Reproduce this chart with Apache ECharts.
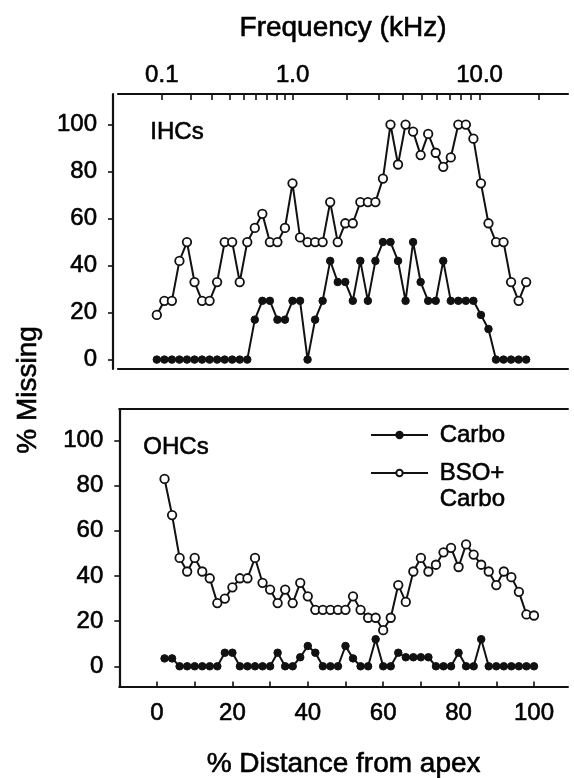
<!DOCTYPE html>
<html>
<head>
<meta charset="utf-8">
<script src="https://cdn.jsdelivr.net/npm/echarts@6/dist/echarts.min.js"></script>
<style>
  html, body { margin: 0; padding: 0; background: #fff; }
  #chart { width: 574px; height: 778px; }
</style>
</head>
<body>
<div id="chart"></div>
<script>
// Position along the cochlea (% distance from apex) of each sampled segment
const distance = [2, 4, 6, 8, 10, 12, 14, 16, 18, 20,
                  22, 24, 26, 28, 30, 32, 34, 36, 38, 40,
                  42, 44, 46, 48, 50, 52, 54, 56, 58, 60,
                  62, 64, 66, 68, 70, 72, 74, 76, 78, 80,
                  82, 84, 86, 88, 90, 92, 94, 96, 98, 100];

// Inner hair cells, % missing
const ihcCarbo = [0, 0, 0, 0, 0, 0, 0, 0, 0, 0,
                  0, 0, 0, 17, 25, 25, 17, 17, 25, 25,
                  0, 17, 25, 42, 33, 33, 25, 42, 25, 42,
                  50, 50, 42, 25, 50, 33, 25, 25, 42, 25,
                  25, 25, 25, 19, 13, 0, 0, 0, 0, 0];
const ihcBsoCarbo = [19, 25, 25, 42, 50, 33, 25, 25, 33, 50,
                     50, 33, 50, 56, 62, 50, 50, 56, 75, 52,
                     50, 50, 50, 67, 50, 58, 58, 67, 67, 67,
                     77, 100, 83, 100, 97, 87, 96, 88, 82, 86,
                     100, 100, 94, 75, 58, 50, 50, 33, 25, 33];

// Outer hair cells, % missing
const ohcCarbo = [3.5, 3.5, 0, 0, 0, 0, 0, 0, 6, 6,
                  0, 0, 0, 0, 0, 6, 0, 0, 4, 9,
                  6, 0, 0, 0, 9, 3.5, 0, 0, 12, 0,
                  0, 6, 4, 4, 4, 4, 0, 0, 0, 6,
                  0, 0, 12, 0, 0, 0, 0, 0, 0, 0];
const ohcBsoCarbo = [83, 67, 48, 42, 48, 42, 39, 28, 30, 35,
                     39, 39, 48, 37, 34, 28, 34, 28, 37, 31,
                     25, 25, 25, 25, 25, 31, 25, 21.5, 21.5, 16,
                     21.5, 36, 28.5, 42, 48, 42, 45, 50.5, 52.5, 44,
                     54, 49.5, 45, 42, 36, 42, 39.5, 33, 23, 22.5];

// Axis ticks
const missingTicks = [0, 20, 40, 60, 80, 100];
const distanceTicks = [0, 10, 20, 30, 40, 50, 60, 70, 80, 90, 100];
const distanceLabels = [0, 20, 40, 60, 80, 100];
const freqTicks = [0.1, 0.2, 0.3, 0.4, 0.5, 0.6, 0.7, 0.8, 0.9,
                   1, 2, 3, 4, 5, 6, 7, 8, 9, 10, 20];
const freqLabels = [0.1, 1, 10];

// Greenwood-type frequency-place map (kHz -> % distance from apex)
const GW = { L: 52.45, A: 0.2165, k: 0.695 };
function freqToDist(f) { return GW.L * Math.log10(f / GW.A + GW.k); }

const FONT = '"Liberation Sans", Arial, Helvetica, sans-serif';
const INK = '#111';
// slightly heavier glyphs: a thin outline in the text colour
const heavy = { textBorderColor: '#000', textBorderWidth: 0.6 };

const pairs = (ys) => distance.map((d, i) => [d, ys[i]]);

const closedSeries = (name, ys, xi, yi) => ({
  name, type: 'line', xAxisIndex: xi, yAxisIndex: yi,
  data: pairs(ys),
  symbol: 'circle', symbolSize: 7.5, showSymbol: true,
  lineStyle: { color: INK, width: 2 },
  itemStyle: { color: INK, borderColor: INK, borderWidth: 1 },
  emphasis: { disabled: true }, animation: false, z: 3
});
const openSeries = (name, ys, xi, yi) => ({
  name, type: 'line', xAxisIndex: xi, yAxisIndex: yi,
  data: pairs(ys),
  symbol: 'circle', symbolSize: 8.5, showSymbol: true,
  lineStyle: { color: INK, width: 2 },
  itemStyle: { color: '#fff', borderColor: INK, borderWidth: 1.8 },
  emphasis: { disabled: true }, animation: false, z: 4
});

const lineOnly = { show: true, onZero: false, lineStyle: { color: INK, width: 2.2 } };
const tickFont = { fontFamily: FONT, fontSize: 24, color: '#000', ...heavy };
const nameFont = { fontFamily: FONT, fontSize: 28, color: '#000', ...heavy };

const topX = { min: -8.3, max: 111.1 };
const botX = { min: -10, max: 109 };

const chart = echarts.init(document.getElementById('chart'), null, { renderer: 'canvas' });

chart.setOption({
  backgroundColor: '#fff',
  animation: false,
  grid: [
    { left: 118, top: 94, width: 450, height: 275, containLabel: false, outerBoundsMode: 'none' },
    { left: 119.3, top: 409, width: 448.6, height: 277.6, containLabel: false, outerBoundsMode: 'none' }
  ],
  xAxis: [
    { // lower edge of the IHC panel
      gridIndex: 0, type: 'value', position: 'bottom', ...topX,
      axisLine: lineOnly, axisTick: { show: false }, axisLabel: { show: false },
      splitLine: { show: false }
    },
    { // frequency scale along the top
      gridIndex: 0, type: 'value', position: 'top', ...topX,
      name: 'Frequency (kHz)', nameLocation: 'middle', nameGap: 52,
      nameTextStyle: nameFont,
      axisLine: lineOnly,
      axisTick: { show: true, inside: true, length: 6, lineStyle: { color: INK, width: 1.6 },
                  customValues: freqTicks.map(freqToDist) },
      axisLabel: { ...tickFont, margin: 7, customValues: freqLabels.map(freqToDist),
                   formatter: (v) => {
                     let best = freqLabels[0];
                     freqLabels.forEach(f => { if (Math.abs(freqToDist(f) - v) < Math.abs(freqToDist(best) - v)) best = f; });
                     return best.toFixed(1);
                   } },
      splitLine: { show: false }
    },
    { // distance from apex
      gridIndex: 1, type: 'value', position: 'bottom', ...botX,
      name: '% Distance from apex', nameLocation: 'middle', nameGap: 64,
      nameTextStyle: nameFont,
      axisLine: lineOnly,
      axisTick: { show: true, inside: true, length: 5, lineStyle: { color: INK, width: 1.6 },
                  customValues: distanceTicks },
      axisLabel: { ...tickFont, margin: 15, customValues: distanceLabels },
      splitLine: { show: false }
    },
    { // upper edge of the OHC panel
      gridIndex: 1, type: 'value', position: 'top', ...botX,
      axisLine: lineOnly, axisTick: { show: false }, axisLabel: { show: false },
      splitLine: { show: false }
    }
  ],
  yAxis: [
    {
      gridIndex: 0, type: 'value', min: -4, max: 113, offset: 5,
      axisLine: lineOnly,
      axisTick: { show: true, length: 5, lineStyle: { color: INK, width: 1.6 }, customValues: missingTicks },
      axisLabel: { ...tickFont, margin: 16, customValues: missingTicks },
      splitLine: { show: false }
    },
    {
      gridIndex: 1, type: 'value', min: -9, max: 114,
      axisLine: lineOnly,
      axisTick: { show: true, length: 5, lineStyle: { color: INK, width: 1.6 }, customValues: missingTicks },
      axisLabel: { ...tickFont, margin: 16, customValues: missingTicks },
      splitLine: { show: false }
    }
  ],
  legend: [
    {
      data: ['Carbo'], left: 370, top: 422, padding: 0, orient: 'vertical',
      itemWidth: 57, itemHeight: 8, selectedMode: false,
      formatter: (n) => ' ' + n,
      textStyle: { fontFamily: FONT, fontSize: 24, color: '#000', lineHeight: 26, ...heavy }
    },
    {
      data: ['BSO+ Carbo'], left: 370, top: 434, padding: 0, orient: 'vertical',
      itemWidth: 57, itemHeight: 8, selectedMode: false,
      formatter: () => ' \n BSO+\n Carbo',
      textStyle: { fontFamily: FONT, fontSize: 24, color: '#000', lineHeight: 26, ...heavy }
    }
  ],
  graphic: [
    { type: 'text', left: 150, top: 120,
      style: { text: 'IHCs', font: '24px ' + FONT, fill: '#000', stroke: '#000', lineWidth: 0.6 } },
    { type: 'text', left: 143, top: 435,
      style: { text: 'OHCs', font: '24px ' + FONT, fill: '#000', stroke: '#000', lineWidth: 0.6 } },
    { type: 'text', x: 28, y: 390, rotation: Math.PI / 2,
      style: { text: '% Missing', font: '28px ' + FONT, fill: '#000', stroke: '#000', lineWidth: 0.6,
               align: 'center', verticalAlign: 'middle' } }
  ],
  series: [
    closedSeries('Carbo', ihcCarbo, 0, 0),
    openSeries('BSO+ Carbo', ihcBsoCarbo, 0, 0),
    closedSeries('Carbo', ohcCarbo, 2, 1),
    openSeries('BSO+ Carbo', ohcBsoCarbo, 2, 1)
  ]
});
</script>
</body>
</html>
